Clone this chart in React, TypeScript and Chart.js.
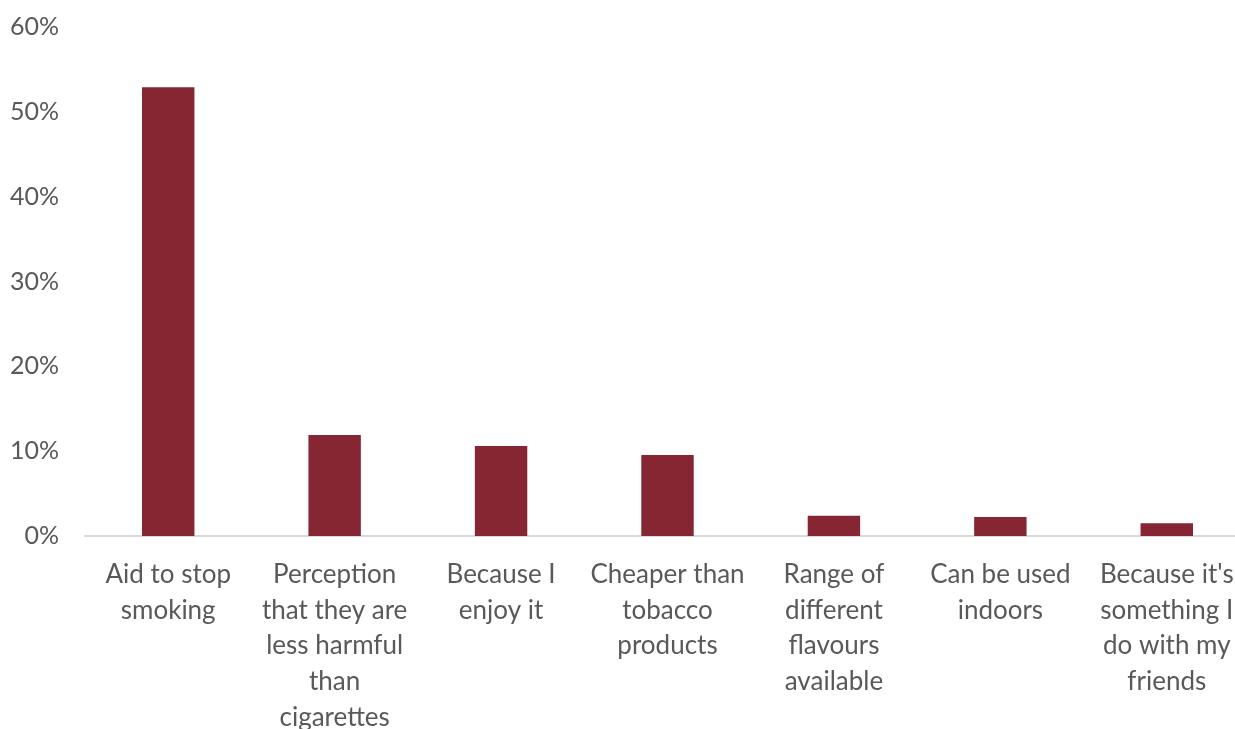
import React, { useEffect, useRef } from "react";
import { Chart, registerables } from "chart.js";

Chart.register(...registerables);

const categories: string[][] = [
  ["Aid to stop", "smoking"],
  ["Perception", "that they are", "less harmful", "than", "cigarettes"],
  ["Because I", "enjoy it"],
  ["Cheaper than", "tobacco", "products"],
  ["Range of", "different", "flavours", "available"],
  ["Can be used", "indoors"],
  ["Because it's", "something I", "do with my", "friends"],
];
const values: number[] = [52.9, 11.9, 10.6, 9.55, 2.4, 2.25, 1.5];
const yTicks: number[] = [0, 10, 20, 30, 40, 50, 60];

const FONT = "Lato, 'Open Sans', sans-serif";
const TEXT = "#595959";
const BAR = "#862633";

export default function App() {
  const ref = useRef<HTMLCanvasElement | null>(null);
  useEffect(() => {
    document.body.style.margin = "0";
    document.body.style.overflow = "hidden";
    const chart = new Chart(ref.current!, {
      type: "bar",
      data: {
        labels: categories,
        datasets: [
          {
            data: values,
            backgroundColor: BAR,
            barPercentage: 0.315,
            categoryPercentage: 1,
          },
        ],
      },
      options: {
        animation: false,
        responsive: false,
        maintainAspectRatio: false,
        layout: { padding: { top: 27, left: 0, right: 0, bottom: 0 } },
        plugins: { legend: { display: false }, tooltip: { enabled: false } },
        scales: {
          x: {
            grid: { display: false, drawTicks: false },
            border: { display: true, color: "#d9d9d9", width: 2 },
            ticks: {
              color: TEXT,
              font: { family: FONT, size: 26, lineHeight: 1.37 },
              padding: 21,
              maxRotation: 0,
              minRotation: 0,
              autoSkip: false,
            },
            afterFit: (axis: any) => {
              axis.height = 193;
              axis.paddingTop = 0;
              axis.paddingBottom = 0;
              axis.paddingLeft = 0;
              axis.paddingRight = 0;
            },
          },
          y: {
            min: 0,
            max: 60,
            afterBuildTicks: (axis: any) => {
              axis.ticks = yTicks.map((v) => ({ value: v }));
            },
            grid: { display: false, drawTicks: false },
            border: { display: false },
            ticks: {
              color: TEXT,
              font: { family: FONT, size: 25 },
              padding: 26,
              callback: (v: any) => v + "%",
            },
            afterFit: (axis: any) => {
              axis.width = 85;
              axis.paddingTop = 0;
              axis.paddingBottom = 0;
            },
          },
        },
      },
    });
    return () => chart.destroy();
  }, []);
  return (
    <div style={{ width: 1250, height: 729, background: "#fff" }}>
      <canvas ref={ref} width={1250} height={729} />
    </div>
  );
}
